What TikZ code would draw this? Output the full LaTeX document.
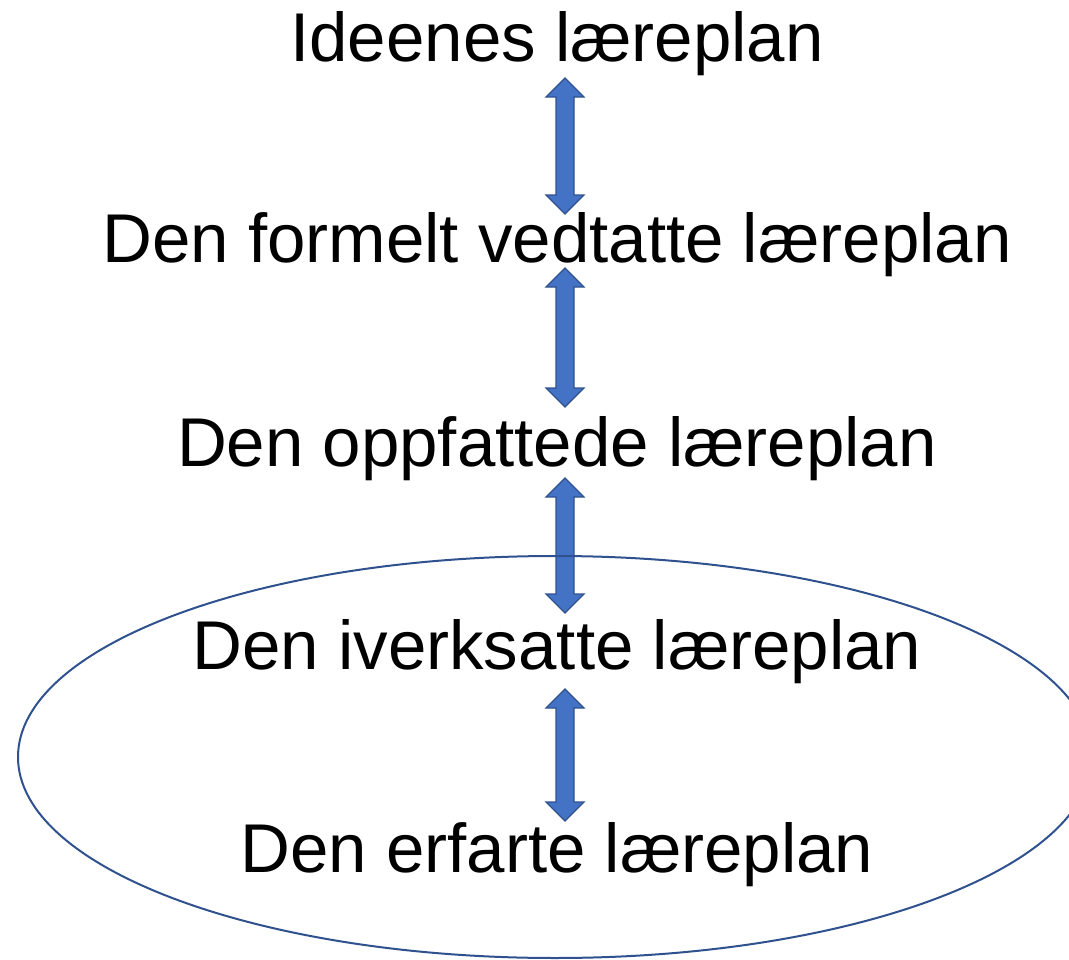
\documentclass[tikz,border=0pt]{standalone}
\usepackage{fontspec}
\setmainfont{Liberation Sans}
\usetikzlibrary{calc}

\definecolor{pilblaa}{HTML}{4472C4}
\definecolor{kantblaa}{HTML}{2F528F}

% block arrow with two heads, from top point #1 to bottom point #2
\newcommand{\dobbelpil}[2]{%
  \filldraw [pil] (#1) -- ++(19,19) -- ++(-10,0) -- ($(#2)+(9,-19)$) -- ++(10,0) -- (#2)
    -- ++(-19,-19) -- ++(10,0) -- ($(#1)+(-9,19)$) -- ++(-10,0) -- cycle;}

\begin{document}
\begin{tikzpicture}[x=0.1mm, y=-0.1mm,
    tekst/.style={anchor=base, inner sep=0pt, font=\fontsize{19.64}{24}\selectfont},
    pil/.style={fill=pilblaa, draw=kantblaa, line width=0.12mm, line join=miter},
    ramme/.style={draw=kantblaa, line width=0.2mm}]
    \useasboundingbox (0,0) rectangle (1069,960);

    \node [tekst] (ideer) at (557, 61) {Ideenes læreplan};
    \node [tekst] (formell) at (557, 262) {Den formelt vedtatte læreplan};
    \node [tekst] (oppfattet) at (557, 466) {Den oppfattede læreplan};
    \node [tekst] (iverksatt) at (557, 669) {Den iverksatte læreplan};
    \node [tekst] (erfart) at (557, 872) {Den erfarte læreplan};

    \coordinate (p1a) at (565, 78);
    \coordinate (p1b) at (565, 214);
    \coordinate (p2a) at (565, 268);
    \coordinate (p2b) at (565, 407);
    \coordinate (p3a) at (565, 478);
    \coordinate (p3b) at (565, 613);
    \coordinate (p4a) at (565, 689);
    \coordinate (p4b) at (565, 821);

    \dobbelpil{p1a}{p1b}
    \dobbelpil{p2a}{p2b}
    \dobbelpil{p3a}{p3b}
    \dobbelpil{p4a}{p4b}

    \draw [ramme] (555, 757) ellipse [x radius=537, y radius=201];
  \end{tikzpicture}
\end{document}
